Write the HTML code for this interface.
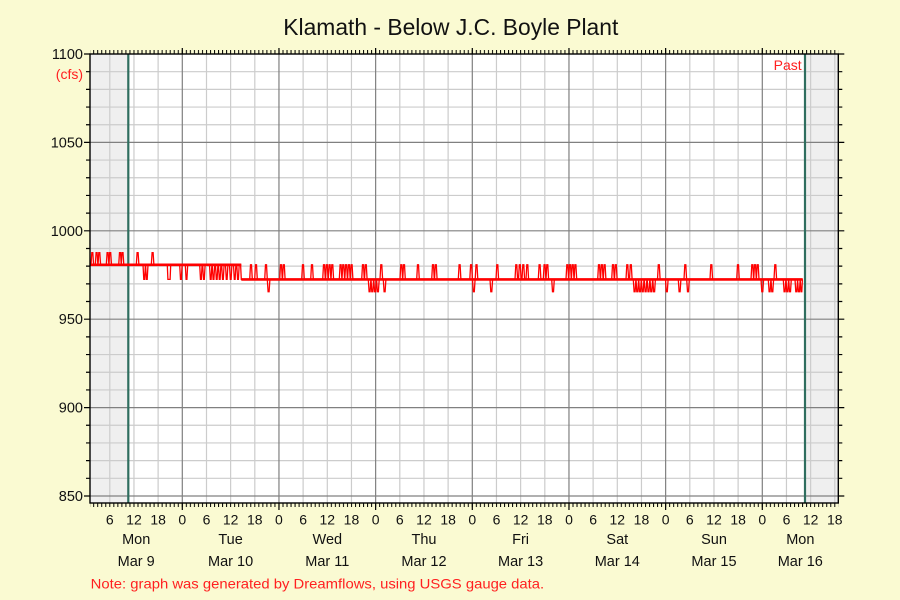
<!DOCTYPE html>
<html><head><meta charset="utf-8"><style>
html,body{margin:0;padding:0;background:#FAFAD2;}
svg{display:block;}
text{font-family:"Liberation Sans",Arial,sans-serif;}
</style></head><body>
<svg width="900" height="600" viewBox="0 0 900 600" xmlns="http://www.w3.org/2000/svg">
<defs>
<pattern id="tk" patternUnits="userSpaceOnUse" x="85.13" y="0" width="4.02778" height="600">
<rect x="0" y="0" width="1" height="600" fill="#000"/>
</pattern>
</defs>
<rect x="0" y="0" width="900" height="600" fill="#FAFAD2"/>
<!-- plot bg -->
<rect x="90" y="54" width="748.3" height="449" fill="#fff"/>
<rect x="90" y="54" width="38.3" height="449" fill="#efefef"/>
<rect x="805" y="54" width="33.3" height="449" fill="#efefef"/>
<!-- minor grid -->
<g stroke="#cccccc" stroke-width="1.2" fill="none">
<path d="M90,71.68H838.3M90,89.36H838.3M90,107.04H838.3M90,124.72H838.3M90,160.08H838.3M90,177.76H838.3M90,195.44H838.3M90,213.12H838.3M90,248.48H838.3M90,266.16H838.3M90,283.84H838.3M90,301.52H838.3M90,336.88H838.3M90,354.56H838.3M90,372.24H838.3M90,389.92H838.3M90,425.28H838.3M90,442.96H838.3M90,460.64H838.3M90,478.32H838.3"/>
<path d="M109.8,54V503M133.96,54V503M158.13,54V503M206.5,54V503M230.63,54V503M254.8,54V503M303.13,54V503M327.3,54V503M351.46,54V503M399.8,54V503M423.96,54V503M448.13,54V503M496.47,54V503M520.63,54V503M544.8,54V503M593.13,54V503M617.3,54V503M641.47,54V503M689.8,54V503M713.97,54V503M738.13,54V503M786.47,54V503M810.63,54V503M834.8,54V503"/>
</g>
<!-- major grid -->
<g stroke="#808080" stroke-width="1.2" fill="none">
<path d="M90,142.4H838.3M90,230.8H838.3M90,319.2H838.3M90,407.6H838.3M90,496H838.3"/>
<path d="M182.3,54V503M278.96,54V503M375.63,54V503M472.3,54V503M568.97,54V503M665.63,54V503M762.3,54V503"/>
</g>
<!-- now lines -->
<g stroke="#2f6e5f" stroke-width="2.2">
<line x1="128.3" y1="54" x2="128.3" y2="503"/>
<line x1="805" y1="54" x2="805" y2="503"/>
</g>
<!-- data -->
<g stroke="#ff0000" fill="none" stroke-linejoin="miter">
<path stroke-width="2.6" d="M90,264.8H241.3M241.3,279.4H802.7"/>
<path stroke-width="1.3" d="M90,264.8
H91 l0.8,-12.1 h1 l0.8,12.1
H95.3 l0.8,-12.1 h1 l0.8,12.1
H98 l0.8,-12.1 h1 l0.8,12.1
H106.3 l0.8,-12.1 h1 l0.8,12.1
H108.9 l0.8,-12.1 h1 l0.8,12.1
H118.7 l0.8,-12.1 h1 l0.8,12.1
H121.2 l0.8,-12.1 h1 l0.8,12.1
H136.3 l0.8,-12.1 h1 l0.8,12.1
H143 l0.8,14.6 h0.8 l0.8,-14.6
H145.6 l0.8,14.6 h0.8 l0.8,-14.6
H151.3 l0.8,-12.1 h1 l0.8,12.1
H167.3 l0.6,14.6 h2.2 l0.6,-14.6
H179.7 l0.8,14.6 h0.8 l0.8,-14.6
H185.3 l0.8,14.6 h0.8 l0.8,-14.6
H199.7 l0.8,14.6 h0.8 l0.8,-14.6
H202.7 l0.8,14.6 h0.8 l0.8,-14.6
H209.5 l0.8,14.6 h0.8 l0.8,-14.6
H212.3 l0.8,14.6 h0.8 l0.8,-14.6
H215.5 l0.8,14.6 h0.8 l0.8,-14.6
H218.5 l0.8,14.6 h0.8 l0.8,-14.6
H221.7 l0.8,14.6 h0.8 l0.8,-14.6
H225.5 l0.8,14.6 h0.8 l0.8,-14.6
H229.5 l0.8,14.6 h0.8 l0.8,-14.6
H233.5 l0.8,14.6 h0.8 l0.8,-14.6
H236.8 l0.8,14.6 h0.8 l0.8,-14.6
H240.6 l0.7,14.6
H249.7 l0.8,-14.6 h1 l0.8,14.6
H254.7 l0.8,-14.6 h1 l0.8,14.6
H264.7 l0.8,-14.6 h1 l0.8,14.6
H267.3 l0.8,12.3 h1 l0.8,-12.3
H279.7 l0.8,-14.6 h1 l0.8,14.6
H282.5 l0.8,-14.6 h1 l0.8,14.6
H301.7 l0.8,-14.6 h1 l0.8,14.6
H310.7 l0.8,-14.6 h1 l0.8,14.6
H322.7 l0.8,-14.6 h1 l0.8,14.6
H325.5 l0.8,-14.6 h1 l0.8,14.6
H328.3 l0.8,-14.6 h1 l0.8,14.6
H331 l0.8,-14.6 h1 l0.8,14.6
H339.3 l0.8,-14.6 h1 l0.8,14.6
H342 l0.8,-14.6 h1 l0.8,14.6
H344.8 l0.8,-14.6 h1 l0.8,14.6
H347.6 l0.8,-14.6 h1 l0.8,14.6
H350.3 l0.8,-14.6 h1 l0.8,14.6
H361.7 l0.8,-14.6 h1 l0.8,14.6
H364.5 l0.8,-14.6 h1 l0.8,14.6
H368.3 l0.8,12.3 h1 l0.8,-12.3
H371 l0.8,12.3 h1 l0.8,-12.3
H373.8 l0.8,12.3 h1 l0.8,-12.3
H376.6 l0.8,12.3 h1 l0.8,-12.3
H380 l0.8,-14.6 h1 l0.8,14.6
H383.3 l0.8,12.3 h1 l0.8,-12.3
H400 l0.8,-14.6 h1 l0.8,14.6
H402.7 l0.8,-14.6 h1 l0.8,14.6
H416.7 l0.8,-14.6 h1 l0.8,14.6
H431.7 l0.8,-14.6 h1 l0.8,14.6
H434.5 l0.8,-14.6 h1 l0.8,14.6
H458.3 l0.8,-14.6 h1 l0.8,14.6
H469.8 l0.8,-14.6 h1 l0.8,14.6
H472.5 l0.8,12.3 h1 l0.8,-12.3
H475.2 l0.8,-14.6 h1 l0.8,14.6
H490 l0.8,12.3 h1 l0.8,-12.3
H496 l0.8,-14.6 h1 l0.8,14.6
H515 l0.8,-14.6 h1 l0.8,14.6
H518.5 l0.8,-14.6 h1 l0.8,14.6
H522 l0.8,-14.6 h1 l0.8,14.6
H526 l0.8,-14.6 h1 l0.8,14.6
H538.3 l0.8,-14.6 h1 l0.8,14.6
H543.3 l0.8,-14.6 h1 l0.8,14.6
H546 l0.8,-14.6 h1 l0.8,14.6
H551.7 l0.8,12.3 h1 l0.8,-12.3
H566 l0.8,-14.6 h1 l0.8,14.6
H568.7 l0.8,-14.6 h1 l0.8,14.6
H571.4 l0.8,-14.6 h1 l0.8,14.6
H574.1 l0.8,-14.6 h1 l0.8,14.6
H597.7 l0.8,-14.6 h1 l0.8,14.6
H600.5 l0.8,-14.6 h1 l0.8,14.6
H603.3 l0.8,-14.6 h1 l0.8,14.6
H611.7 l0.8,-14.6 h1 l0.8,14.6
H614.5 l0.8,-14.6 h1 l0.8,14.6
H626 l0.8,-14.6 h1 l0.8,14.6
H629.5 l0.8,-14.6 h1 l0.8,14.6
H633.3 l0.8,12.3 h1 l0.8,-12.3
H636 l0.8,12.3 h1 l0.8,-12.3
H638.7 l0.8,12.3 h1 l0.8,-12.3
H641.4 l0.8,12.3 h1 l0.8,-12.3
H644.3 l0.8,12.3 h1 l0.8,-12.3
H647.2 l0.8,12.3 h1 l0.8,-12.3
H650 l0.8,12.3 h1 l0.8,-12.3
H652.8 l0.8,12.3 h1 l0.8,-12.3
H657.5 l0.8,-14.6 h1 l0.8,14.6
H665.5 l0.8,12.3 h1 l0.8,-12.3
H678.3 l0.8,12.3 h1 l0.8,-12.3
H684 l0.8,-14.6 h1 l0.8,14.6
H686.7 l0.8,12.3 h1 l0.8,-12.3
H710 l0.8,-14.6 h1 l0.8,14.6
H736.7 l0.8,-14.6 h1 l0.8,14.6
H751 l0.8,-14.6 h1 l0.8,14.6
H753.7 l0.8,-14.6 h1 l0.8,14.6
H756.4 l0.8,-14.6 h1 l0.8,14.6
H761 l0.8,12.3 h1 l0.8,-12.3
H768.3 l0.8,12.3 h1 l0.8,-12.3
H771 l0.8,12.3 h1 l0.8,-12.3
H774 l0.8,-14.6 h1 l0.8,14.6
H783.3 l0.8,12.3 h1 l0.8,-12.3
H786 l0.8,12.3 h1 l0.8,-12.3
H788.7 l0.8,12.3 h1 l0.8,-12.3
H795 l0.8,12.3 h1 l0.8,-12.3
H797.6 l0.8,12.3 h1 l0.8,-12.3
H800.2 l0.8,12.3 h0.8 l0.6,-12.3
H802.7"/>
</g>
<!-- box -->
<rect x="90" y="54" width="748.3" height="449" fill="none" stroke="#000" stroke-width="1.4"/>
<!-- hourly ticks -->
<rect x="90" y="50" width="748.3" height="4" fill="url(#tk)"/>
<rect x="90" y="503" width="748.3" height="4" fill="url(#tk)"/>
<g stroke="#000" stroke-width="1.2" fill="none">
<path d="M182.3,48V54M278.96,48V54M375.63,48V54M472.3,48V54M568.97,48V54M665.63,48V54M762.3,48V54"/>
<path d="M182.3,503V510M278.96,503V510M375.63,503V510M472.3,503V510M568.97,503V510M665.63,503V510M762.3,503V510"/>
<path d="M86,71.68H90M86,89.36H90M86,107.04H90M86,124.72H90M86,160.08H90M86,177.76H90M86,195.44H90M86,213.12H90M86,248.48H90M86,266.16H90M86,283.84H90M86,301.52H90M86,336.88H90M86,354.56H90M86,372.24H90M86,389.92H90M86,425.28H90M86,442.96H90M86,460.64H90M86,478.32H90"/>
<path d="M84,54H90M84,142.4H90M84,230.8H90M84,319.2H90M84,407.6H90M84,496H90"/>
<path d="M838.3,71.68h4M838.3,89.36h4M838.3,107.04h4M838.3,124.72h4M838.3,160.08h4M838.3,177.76h4M838.3,195.44h4M838.3,213.12h4M838.3,248.48h4M838.3,266.16h4M838.3,283.84h4M838.3,301.52h4M838.3,336.88h4M838.3,354.56h4M838.3,372.24h4M838.3,389.92h4M838.3,425.28h4M838.3,442.96h4M838.3,460.64h4M838.3,478.32h4"/>
<path d="M838.3,54h6M838.3,142.4h6M838.3,230.8h6M838.3,319.2h6M838.3,407.6h6M838.3,496h6"/>
</g>
<!-- title -->
<text x="283.3" y="35" font-size="23" fill="#111" textLength="335" lengthAdjust="spacingAndGlyphs">Klamath - Below J.C. Boyle Plant</text>
<!-- y labels -->
<g font-size="14.5" fill="#111" text-anchor="end">
<text x="83" y="59">1100</text>
<text x="83" y="147.4">1050</text>
<text x="83" y="235.8">1000</text>
<text x="83" y="324.2">950</text>
<text x="83" y="412.6">900</text>
<text x="83" y="501">850</text>
</g>
<text x="83" y="79" font-size="14" fill="#ff2020" text-anchor="end">(cfs)</text>
<text x="801.7" y="70" font-size="14" fill="#ff2020" text-anchor="end">Past</text>
<!-- x hour labels -->
<g font-size="14" fill="#111" text-anchor="middle">
<text x="109.8" y="524.3">6</text><text x="133.96" y="524.3">12</text><text x="158.13" y="524.3">18</text>
<text x="182.3" y="524.3">0</text><text x="206.5" y="524.3">6</text><text x="230.63" y="524.3">12</text><text x="254.8" y="524.3">18</text>
<text x="278.96" y="524.3">0</text><text x="303.13" y="524.3">6</text><text x="327.3" y="524.3">12</text><text x="351.46" y="524.3">18</text>
<text x="375.63" y="524.3">0</text><text x="399.8" y="524.3">6</text><text x="423.96" y="524.3">12</text><text x="448.13" y="524.3">18</text>
<text x="472.3" y="524.3">0</text><text x="496.47" y="524.3">6</text><text x="520.63" y="524.3">12</text><text x="544.8" y="524.3">18</text>
<text x="568.97" y="524.3">0</text><text x="593.13" y="524.3">6</text><text x="617.3" y="524.3">12</text><text x="641.47" y="524.3">18</text>
<text x="665.63" y="524.3">0</text><text x="689.8" y="524.3">6</text><text x="713.97" y="524.3">12</text><text x="738.13" y="524.3">18</text>
<text x="762.3" y="524.3">0</text><text x="786.47" y="524.3">6</text><text x="810.63" y="524.3">12</text><text x="834.8" y="524.3">18</text>
</g>
<g font-size="14.5" fill="#111" text-anchor="middle">
<text x="136.2" y="544">Mon</text><text x="136.2" y="566">Mar 9</text>
<text x="230.6" y="544">Tue</text><text x="230.6" y="566">Mar 10</text>
<text x="327.3" y="544">Wed</text><text x="327.3" y="566">Mar 11</text>
<text x="424" y="544">Thu</text><text x="424" y="566">Mar 12</text>
<text x="520.6" y="544">Fri</text><text x="520.6" y="566">Mar 13</text>
<text x="617.3" y="544">Sat</text><text x="617.3" y="566">Mar 14</text>
<text x="714" y="544">Sun</text><text x="714" y="566">Mar 15</text>
<text x="800.3" y="544">Mon</text><text x="800.3" y="566">Mar 16</text>
</g>
<text x="90.7" y="588.3" font-size="14" fill="#ff2020" textLength="453.5" lengthAdjust="spacingAndGlyphs">Note: graph was generated by Dreamflows, using USGS gauge data.</text>
</svg>
</body></html>
